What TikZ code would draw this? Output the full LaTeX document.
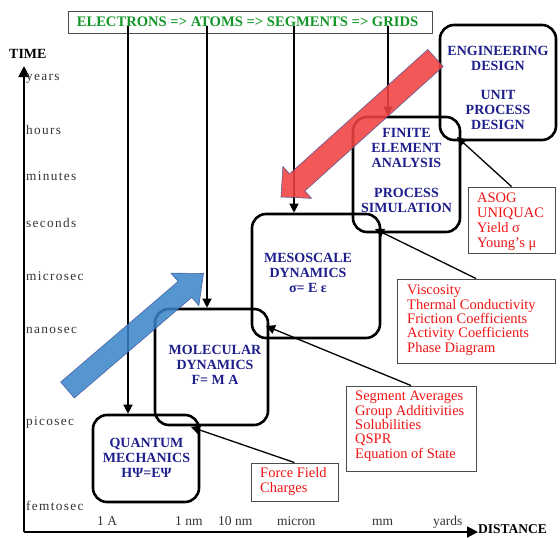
\documentclass[tikz,border=0pt]{standalone}
\usepackage{fontspec}
\setmainfont{Liberation Serif}
\newfontfamily\tfont[LetterSpace=10]{Liberation Serif}
\usetikzlibrary{arrows.meta,calc}
\definecolor{navy}{RGB}{30,30,140}
\definecolor{grn}{RGB}{20,150,40}
\definecolor{rtxt}{RGB}{240,20,20}
\definecolor{barrow}{RGB}{55,130,200}
\definecolor{rarrow}{RGB}{240,65,65}
\definecolor{aedge}{RGB}{60,80,150}
\begin{document}
\begin{tikzpicture}[x=1pt,y=-1pt,
  rbox/.style={draw, line width=2.6pt, rounded corners=14pt, inner sep=0pt},
  blab/.style={font=\fontsize{14}{15}\selectfont\bfseries, text=navy, align=center, inner sep=0pt},
  tbox/.style={draw=black!70, line width=0.9pt, inner sep=0pt},
  rlab/.style={font=\fontsize{14.5}{14.3}\selectfont, text=rtxt, align=left, anchor=west, inner sep=0pt},
  conn/.style={line width=1.3pt, -{Triangle[width=9pt,length=9pt]}},
  axisline/.style={line width=1.8pt, -{Triangle[width=11pt,length=11pt]}},
  tlab/.style={font=\tfont\fontsize{13.3}{13}\selectfont, text=black!80, anchor=base west, inner sep=0pt},
  dlab/.style={font=\fontsize{13.5}{13.5}\selectfont, text=black!80, anchor=base west, inner sep=0pt},
  bigarrow/.style={line width=0.6pt, draw opacity=0.8},
]
\useasboundingbox (0,0) rectangle (560,538);

% axes
\coordinate (origin) at (24,532);
\coordinate (ytip) at (24,66);
\coordinate (xtip) at (478,532);
\draw[axisline] (origin) -- (ytip);
\draw[axisline] (origin) -- (xtip);
\node[font=\fontsize{14}{14}\selectfont\bfseries, anchor=base west, inner sep=0pt] (timel) at (9,58) {TIME};
\node[font=\fontsize{13.5}{13.5}\selectfont\bfseries, anchor=base west, inner sep=0pt] (distl) at (478,533) {DISTANCE};

% time labels
\node[tlab] (tyears) at (26,80) {years};
\node[tlab] (thours) at (26,134) {hours};
\node[tlab] (tminutes) at (26,180) {minutes};
\node[tlab] (tseconds) at (26,227) {seconds};
\node[tlab] (tmicro) at (26,280) {microsec};
\node[tlab] (tnano) at (26,333) {nanosec};
\node[tlab] (tpico) at (26,425) {picosec};
\node[tlab] (tfemto) at (26,510) {femtosec};

% distance labels
\node[dlab] (d1) at (97,525) {1 A};
\node[dlab] (d2) at (175,525) {1 nm};
\node[dlab] (d3) at (218,525) {10 nm};
\node[dlab] (d4) at (277,525) {micron};
\node[dlab] (d5) at (372,525) {mm};
\node[dlab] (d6) at (433,525) {yards};

% top box
\node[tbox, minimum width=364pt, minimum height=22pt] (top) at (250,22) {};
\node[font=\fontsize{14.6}{14.6}\selectfont\bfseries, text=grn, inner sep=0pt] (toptext) at (247.5,21.4) {ELECTRONS => ATOMS => SEGMENTS => GRIDS};

% rounded boxes
\node[rbox, minimum width=116pt, minimum height=115pt] (eng) at (498,82.5) {};
\node[rbox, minimum width=107pt, minimum height=115pt] (fea) at (406.5,174.5) {};
\node[rbox, minimum width=128pt, minimum height=124pt] (meso) at (316,276) {};
\node[rbox, minimum width=113pt, minimum height=116pt] (mol) at (211.5,367) {};
\node[rbox, minimum width=106pt, minimum height=87pt] (qm) at (146,458.5) {};

\node[blab] (engt) at (498,87.75) {ENGINEERING\\DESIGN\\[14pt]UNIT\\PROCESS\\DESIGN};
\node[blab] (feat) at (406.5,170.75) {FINITE\\ELEMENT\\ANALYSIS\\[15pt]PROCESS\\SIMULATION};
\node[blab] (mesot) at (308,273) {MESOSCALE\\DYNAMICS\\σ= E ε};
\node[blab] (molt) at (215,365.25) {MOLECULAR\\DYNAMICS\\F= M A};
\node[blab] (qmt) at (146.5,458.25) {QUANTUM\\MECHANICS\\HΨ=EΨ};

% red text boxes
\node[tbox, minimum width=87pt, minimum height=66pt] (asog) at (511.5,220) {};
\node[rlab, font=\fontsize{14.5}{15}\selectfont] (asogt) at (477,221.3) {ASOG\\UNIQUAC\\Yield σ\\Young's μ};
\node[tbox, minimum width=158pt, minimum height=84pt] (visc) at (476,321) {};
\node[rlab] (visct) at (407,320.2) {Viscosity\\Thermal Conductivity\\Friction Coefficients\\Activity Coefficients\\Phase Diagram};
\node[tbox, minimum width=130pt, minimum height=85pt] (seg) at (411,428.5) {};
\node[rlab] (segt) at (355,426.2) {Segment Averages\\Group Additivities\\Solubilities\\QSPR\\Equation of State};
\node[tbox, minimum width=87pt, minimum height=38pt] (force) at (294.5,482) {};
\node[rlab, font=\fontsize{14.5}{15}\selectfont] (forcet) at (260,481.2) {Force Field\\Charges};

% vertical connectors from the top box
\coordinate (e1) at (128,26);
\coordinate (e2) at (207,26);
\coordinate (e3) at (294,26);
\coordinate (e4) at (388,26);
\draw[conn] (e1) -- (e1 |- qm.north);
\draw[conn] (e2) -- (e2 |- mol.north);
\draw[conn] (e3) -- (e3 |- meso.north);
\draw[conn] (e4) -- (e4 |- fea.north);

% corner connectors
\coordinate (k1) at (457,137);
\coordinate (k2) at (375,229);
\coordinate (k3) at (266,326);
\coordinate (k4) at (191,427);
\draw[conn] (asog.north) -- (k1);
\draw[conn] (visc.north) -- (k2);
\draw[conn] (seg.north) -- (k3);
\draw[conn] (force.north) -- (k4);

% big blue arrow
\coordinate (bT) at (67.5,390);
\coordinate (bP) at (203.5,273.5);
\coordinate (bB) at ($(bT)!154.6pt!(bP)$);
\filldraw[bigarrow, fill=barrow, fill opacity=0.85, draw=aedge]
  ($(bT)!10.5pt!90:(bP)$) -- ($(bB)!10.5pt!90:(bP)$) -- ($(bB)!21.5pt!90:(bP)$) -- (bP)
  -- ($(bB)!21.5pt!-90:(bP)$) -- ($(bB)!10.5pt!-90:(bP)$) -- ($(bT)!10.5pt!-90:(bP)$) -- cycle;

% big red arrow
\coordinate (rT) at (435.5,58);
\coordinate (rP) at (281,197);
\coordinate (rB) at ($(rT)!186pt!(rP)$);
\filldraw[bigarrow, fill=rarrow, fill opacity=0.88, draw=aedge]
  ($(rT)!11.5pt!90:(rP)$) -- ($(rB)!11.5pt!90:(rP)$) -- ($(rB)!21.5pt!90:(rP)$) -- (rP)
  -- ($(rB)!21.5pt!-90:(rP)$) -- ($(rB)!11.5pt!-90:(rP)$) -- ($(rT)!11.5pt!-90:(rP)$) -- cycle;
\end{tikzpicture}
\end{document}
